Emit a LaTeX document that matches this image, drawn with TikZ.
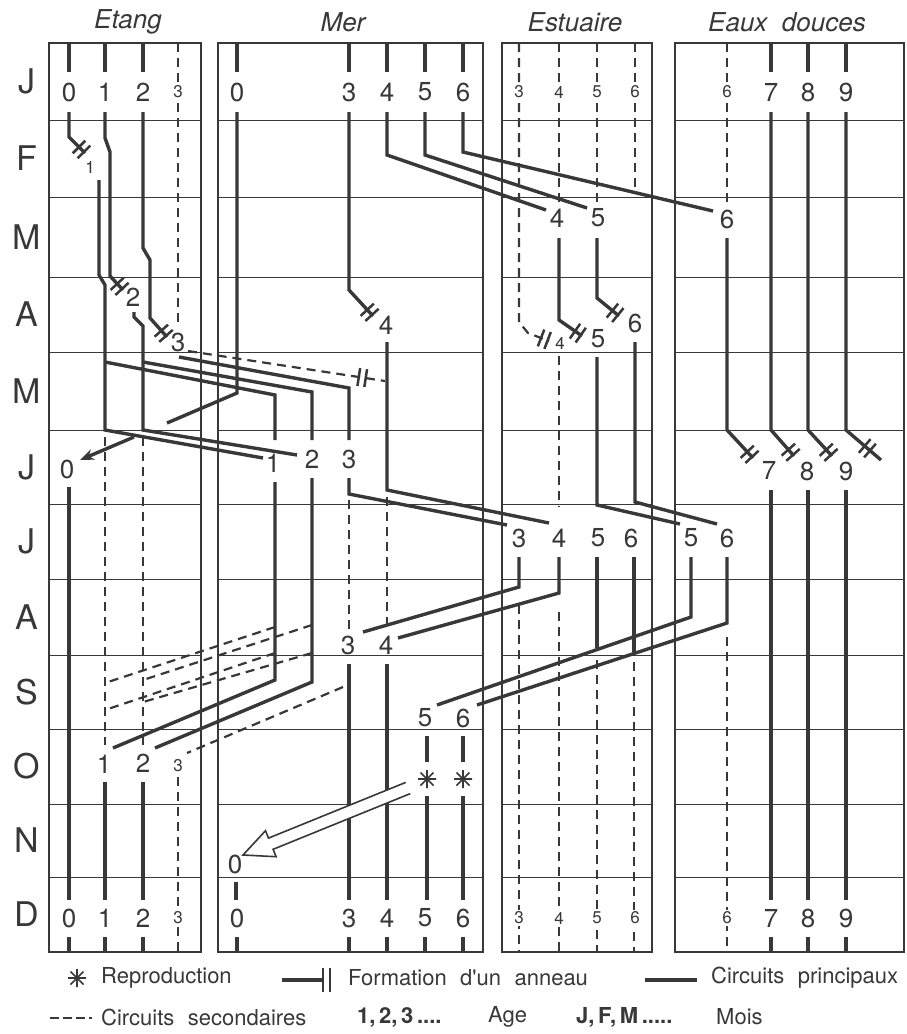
\documentclass[tikz,border=0pt]{standalone}
\usepackage{fontspec}
\setmainfont{TeX Gyre Heros}
\newfontfamily\legfont[WordSpace=2.2]{TeX Gyre Heros}
\usetikzlibrary{arrows.meta,decorations.markings}
\definecolor{ink}{gray}{0.22}

\tikzset{
	rowline/.style={draw=ink, line width=0.9pt},
	panel/.style={draw=ink, line width=1.4pt},
	mainc/.style={draw=ink, line width=3.4pt},
	secc/.style={draw=ink, line width=2.2pt, dash pattern=on 9pt off 6pt},
	agebig/.style={font=\fontsize{26}{26}\selectfont, text=ink, inner sep=1pt},
	agesmall/.style={font=\fontsize{17}{17}\selectfont, text=ink, inner sep=2pt, fill=white},
	month/.style={font=\fontsize{34}{34}\selectfont, text=ink},
	title/.style={font=\fontsize{26}{26}\selectfont\itshape, text=ink},
	legend/.style={font=\legfont\fontsize{22}{22}\selectfont, text=ink, anchor=west, inner sep=0pt},
	legbold/.style={font=\fontsize{22}{22}\selectfont\bfseries, text=ink, anchor=west, inner sep=0pt},
	ringmid/.style={postaction={decorate, decoration={markings,
		mark=at position #1 with {\draw[solid, draw=ink, line width=2.5pt] (-3.5,-9) -- (-3.5,9) (3.5,-9) -- (3.5,9);}}}},
	ringend/.style={ringmid=-5pt},
	pics/repro/.style={code={\draw[ink, line width=1.7pt] (-9,0) -- (9,0) (0,-9) -- (0,9) (-6.5,-6.5) -- (6.5,6.5) (-6.5,6.5) -- (6.5,-6.5);}}
}

\begin{document}
\begin{tikzpicture}[x=1pt,y=-1pt]
	\useasboundingbox (0,0) rectangle (906,1034);
	% panels
	\foreach \l/\r in {49/201,218/483,502/652,675/904} {
		\foreach \y in {120,197,277,352,430,504,579,655,729,804,877}
			\draw[rowline] (\l,\y) -- (\r,\y);
		\draw[panel] (\l,43) rectangle (\r,952);
	}
	\foreach \m/\y [count=\i] in {J/81,F/158,M/237,A/314,M/391,J/467,J/541,A/617,S/692,O/766,N/840,D/914}
		\node[month] (mois\i) at (27,\y) {\m};
	\node[title] (tetang) at (128,22) {Etang};
	\node[title] (tmer) at (343,22) {Mer};
	\node[title] (testuaire) at (575,22) {Estuaire};
	\node[title] (tdouces) at (787,22) {Eaux\ \ douces};

	% secondary circuits
	\draw[secc] (178,43) -- (178,325);
	\draw[secc] (105,437) -- (105,745);
	\draw[secc] (143,437) -- (143,745);
	\draw[secc] (178,777) -- (178,952);
	\draw[secc, ringmid=-23pt] (188,351) -- (385,381);
	\draw[secc] (275,627) -- (105,683);
	\draw[secc] (312,625) -- (143,680);
	\draw[secc] (275,653) -- (105,710);
	\draw[secc] (312,653) -- (143,702);
	\draw[secc] (343,687) -- (187,753);
	\draw[secc] (349,500) -- (349,630);
	\draw[secc] (387,497) -- (387,628);
	\draw[secc, ringend] (519,43) -- (519,322) -- (528,333) -- (549,341);
	\draw[secc] (559,43) -- (559,203);
	\draw[secc] (597,43) -- (597,203);
	\draw[secc] (635,43) -- (635,192);
	\draw[secc] (559,356) -- (559,507);
	\draw[secc] (519,605) -- (519,952);
	\draw[secc] (559,612) -- (559,952);
	\draw[secc] (597,660) -- (597,952);
	\draw[secc] (634,662) -- (634,952);
	\draw[secc] (727,43) -- (727,203);
	\draw[secc] (727,637) -- (727,952);

	% January and December
	\foreach \x in {69,105,143,237,349,387,425,463,771,808,846} {
		\draw[mainc] (\x,43) -- (\x,72);
		\draw[mainc] (\x,937) -- (\x,952);
	}
	\foreach \x/\a in {69/0,105/1,143/2,237/0,349/3,387/4,425/5,463/6,771/7,808/8,846/9} {
		\node[agebig] (jan\x) at (\x,92) {\a};
		\node[agebig] (dec\x) at (\x,918) {\a};
	}
	\foreach \x/\a in {178/3,519/3,559/4,597/5,635/6,727/6} {
		\node[agesmall] (jans\x) at (\x,92) {\a};
		\node[agesmall] (decs\x) at (\x,918) {\a};
	}

	% Etang
	\draw[mainc, ringend] (69,112) -- (69,137) -- (85,153);
	\node[agesmall] (eanneau1) at (90,167) {1};
	\draw[mainc, ringend] (105,112) -- (105,138) -- (110,152) -- (110,276) -- (123,290);
	\node[agebig] (eanneau2) at (133,297) {2};
	\draw[mainc, ringend] (143,112) -- (143,248) -- (150,260) -- (150,318) -- (167,337);
	\node[agebig] (eanneau3) at (178,342) {3};
	\draw[mainc] (99,180) -- (99,275) -- (105,285) -- (105,430) -- (263,458);
	\draw[mainc] (134,312) -- (134,317) -- (143,326) -- (143,430) -- (297,455);
	\draw[mainc] (105,362) -- (275,395) -- (275,440);
	\draw[mainc] (143,362) -- (312,392) -- (312,440);
	\draw[mainc] (179,357) -- (349,388) -- (349,440);
	\node[agebig] (ejuin0) at (67,469) {0};
	\draw[mainc] (69,487) -- (69,900);
	\node[agebig] (eoct1) at (104,764) {1};
	\node[agebig] (eoct2) at (143,763) {2};
	\node[agesmall] (eoct3) at (178,766) {3};
	\draw[mainc] (105,782) -- (105,900);
	\draw[mainc] (143,782) -- (143,900);

	% Mer
	\draw[mainc] (237,112) -- (237,393) -- (167,423);
	\draw[mainc, -{Stealth[length=14pt,width=11pt]}] (134,437) -- (80,460);
	\node[agebig] (mjuin1) at (273,463) {1};
	\node[agebig] (mjuin2) at (312,459) {2};
	\node[agebig] (mjuin3) at (349,459) {3};
	\draw[mainc] (275,482) -- (275,680) -- (113,748);
	\draw[mainc] (312,478) -- (312,682) -- (155,748);
	\draw[mainc, ringend] (349,112) -- (349,290) -- (373,316);
	\node[agebig] (manneau4) at (386,325) {4};
	\draw[mainc] (349,478) -- (349,494) -- (507,525);
	\draw[mainc] (387,342) -- (387,490) -- (549,523);
	\node[agebig] (maout3) at (348,645) {3};
	\node[agebig] (maout4) at (386,645) {4};
	\draw[mainc] (349,664) -- (349,900);
	\draw[mainc] (387,664) -- (387,900);
	\draw[mainc] (387,112) -- (387,155) -- (546,210);
	\draw[mainc] (425,112) -- (425,155) -- (587,208);
	\draw[mainc] (463,112) -- (463,152) -- (713,211);
	\node[agebig] (msep5) at (425,718) {5};
	\node[agebig] (msep6) at (463,718) {6};
	\foreach \x in {427,463} {
		\draw[mainc] (\x,736) -- (\x,762);
		\pic at (\x,779) {repro};
		\draw[mainc] (\x,796) -- (\x,900);
	}
	\draw[ink, line width=1.6pt, fill=white] (410.3,793.6) -- (273.1,849.3) -- (276.1,856.7) -- (243,855)
		-- (265.5,830.7) -- (268.5,838.1) -- (405.7,782.4);
	\node[agebig] (mnov0) at (235,864) {0};
	\draw[mainc] (236,882) -- (236,900);

	% Estuaire
	\node[agebig] (emars4) at (557,218) {4};
	\node[agebig] (emars5) at (598,218) {5};
	\draw[mainc, ringend] (559,238) -- (559,320) -- (582,336);
	\node[agebig] (eavr5) at (598,339) {5};
	\draw[mainc, ringend] (597,238) -- (597,298) -- (619,316);
	\node[agebig] (eavr6) at (635,323) {6};
	\node[agesmall] (eavr4) at (560,343) {4};
	\draw[mainc] (597,357) -- (597,505) -- (680,524);
	\draw[mainc] (635,342) -- (635,502) -- (717,524);
	\node[agebig] (ejul3) at (519,538) {3};
	\node[agebig] (ejul4) at (559,538) {4};
	\node[agebig] (ejul5) at (598,538) {5};
	\node[agebig] (ejul6) at (631,538) {6};
	\draw[mainc] (519,557) -- (519,587) -- (363,632);
	\draw[mainc] (559,557) -- (559,593) -- (398,638);
	\draw[mainc] (597,557) -- (597,648);
	\draw[mainc] (634,557) -- (634,653);

	% Eaux douces
	\node[agebig] (dmars6) at (727,219) {6};
	\draw[mainc, ringend] (727,238) -- (727,430) -- (753,458);
	\node[agebig] (djuin7) at (769,470) {7};
	\draw[mainc, ringend] (771,112) -- (771,430) -- (794,456);
	\node[agebig] (djuin8) at (807,471) {8};
	\draw[mainc, ringend] (808,112) -- (808,430) -- (832,456);
	\node[agebig] (djuin9) at (846,471) {9};
	\draw[mainc, ringmid=-18pt] (846,112) -- (846,430) -- (881,460);
	\foreach \x in {771,808,846}
		\draw[mainc] (\x,490) -- (\x,900);
	\node[agebig] (djul5) at (691,538) {5};
	\node[agebig] (djul6) at (727,538) {6};
	\draw[mainc] (691,557) -- (691,617) -- (437,705);
	\draw[mainc] (727,557) -- (727,623) -- (477,705);

	% legend
	\pic at (77,978) {repro};
	\node[legend] (lrepro) at (101,978) {Reproduction};
	\draw[mainc] (282,980) -- (323,980);
	\draw[ink, line width=2.6pt] (323,968) -- (323,992) (330,968) -- (330,992);
	\node[legend] (lanneau) at (348,978) {Formation d'un anneau};
	\draw[mainc] (645,980) -- (697,980);
	\node[legend] (lprinc) at (711,978) {Circuits principaux};
	\draw[secc, dash pattern=on 9pt off 4pt] (50,1018) -- (92,1018);
	\node[legend] (lsec) at (101,1017) {Circuits secondaires};
	\node[legbold] (lage) at (357,1017) {1,\,2,\,3\,....};
	\node[legend] (lagetxt) at (488,1017) {Age};
	\node[legbold] (lmois) at (576,1017) {J,\,F,\,M\,.....};
	\node[legend] (lmoistxt) at (716,1017) {Mois};
\end{tikzpicture}
\end{document}
